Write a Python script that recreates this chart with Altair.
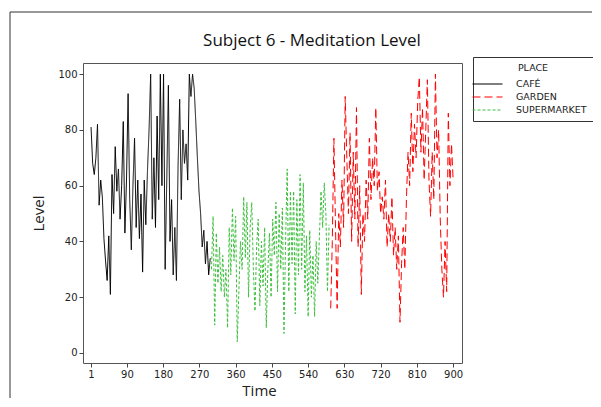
import altair as alt
import pandas as pd

# sampling: one reading every 4 time units
step = 4
cafe_start = 1
supermarket_start = 300
garden_start = 596

cafe = [81, 68, 64, 70, 82, 53, 62, 56, 41, 33, 26, 42, 21, 64, 50, 74, 58, 66, 48, 60,
        83, 43, 62, 93, 55, 37, 60, 77, 45, 62, 41, 57, 29, 62, 46, 65, 80, 100, 48, 70,
        45, 85, 55, 100, 60, 100, 30, 62, 96, 40, 55, 28, 45, 26, 67, 91, 55, 80, 68, 75,
        62, 100, 92, 100, 95, 83, 70, 58, 50, 38, 44, 32, 40, 28, 34]

supermarket = [30, 49, 10, 43, 25, 38, 22, 35, 20, 30, 9, 45, 28, 52, 33, 49, 4, 22, 40, 30,
               56, 34, 54, 20, 45, 54, 30, 15, 38, 48, 17, 40, 24, 45, 9, 30, 43, 20, 48, 35,
               54, 22, 50, 30, 52, 7, 40, 66, 22, 58, 32, 58, 14, 55, 28, 64, 30, 61, 22, 42,
               13, 44, 20, 35, 13, 40, 25, 42, 58, 45, 61, 50, 22, 46]

garden = [16, 40, 77, 45, 16, 50, 38, 62, 45, 92, 70, 50, 79, 40, 72, 48, 88, 38, 60, 21,
          50, 40, 62, 48, 77, 55, 70, 60, 88, 58, 65, 50, 56, 48, 62, 38, 50, 40, 56, 35,
          45, 30, 42, 11, 32, 45, 30, 55, 72, 60, 86, 65, 82, 70, 90, 99, 72, 88, 62, 80,
          98, 62, 49, 72, 55, 100, 70, 80, 48, 30, 20, 40, 22, 86, 60, 75, 62]

x_ticks = [1, 90, 180, 270, 360, 450, 540, 630, 720, 810, 900]
y_ticks = [0, 20, 40, 60, 80, 100]
places = ["CAFÉ", "GARDEN", "SUPERMARKET"]
colors = ["#000000", "#ff0000", "#3cc03c"]
dashes = [[1, 0], [8, 4], [3, 2]]
chart_title = ["Subject 6 - Meditation Level"]

rows = []
for name, start, vals in [("CAFÉ", cafe_start, cafe),
                          ("SUPERMARKET", supermarket_start, supermarket),
                          ("GARDEN", garden_start, garden)]:
    for i, v in enumerate(vals):
        rows.append({"Time": start + step * i, "Level": v, "PLACE": name})
df = pd.DataFrame(rows)

lines = alt.Chart(df).mark_line(strokeWidth=1, clip=True).encode(
    x=alt.X("Time:Q",
            scale=alt.Scale(domain=[-19, 922], nice=False, zero=False),
            axis=alt.Axis(values=x_ticks, title="Time", titleFontSize=15,
                          titleFont="Open Sans", titleFontWeight="normal",
                          titleColor="#222", titlePadding=4, titleX=176,
                          labelFont="DejaVu Sans", labelFontSize=10, labelColor="#222",
                          tickSize=4, tickColor="#444", domain=False, grid=False,
                          labelPadding=2)),
    y=alt.Y("Level:Q",
            scale=alt.Scale(domain=[-3.6, 104], nice=False, zero=False),
            axis=alt.Axis(values=y_ticks, title="Level", titleFontSize=15,
                          titleFont="Open Sans", titleFontWeight="normal",
                          titleColor="#222", titlePadding=11,
                          labelFont="DejaVu Sans", labelFontSize=10, labelColor="#222",
                          tickSize=4, tickColor="#444", domain=False, grid=False,
                          labelPadding=2)),
    color=alt.Color("PLACE:N", scale=alt.Scale(domain=places, range=colors)),
    strokeDash=alt.StrokeDash("PLACE:N", scale=alt.Scale(domain=places, range=dashes)),
    order="Time:Q",
)

one = pd.DataFrame({"k": [0]})
frame_top = alt.Chart(one).mark_rule(stroke="#333", strokeWidth=1, clip=False).encode(
    x=alt.value(-73), x2=alt.value(509), y=alt.value(-51))
frame_left = alt.Chart(one).mark_rule(stroke="#333", strokeWidth=1, clip=False).encode(
    x=alt.value(-73), y=alt.value(-51), y2=alt.value(335))

title = alt.Chart(pd.DataFrame({"t": chart_title})).mark_text(
    font="Open Sans", fontSize=17, color="#111", align="center", baseline="middle"
).encode(x=alt.value(229), y=alt.value(-22), text="t:N")

chart = alt.layer(frame_top, frame_left, title, lines).properties(
    width=379, height=300,
    padding={"left": 75, "top": 55, "right": 131, "bottom": 36},
    autosize=alt.AutoSizeParams(type="none"),
).configure_view(
    stroke="#555", strokeWidth=1
).configure_legend(
    orient="none", legendX=390, legendY=-6,
    strokeColor="#333", fillColor="white", padding=6,
    titleFont="DejaVu Sans", titleFontSize=9.5, titleFontWeight="normal",
    titleColor="#222", titleAnchor="middle", titlePadding=3,
    labelFont="DejaVu Sans", labelFontSize=9.5, labelColor="#222", labelOffset=20,
    symbolType="M-2,0H2", symbolSize=225, symbolStrokeWidth=1.2, rowPadding=0,
)

chart.save("out.html", embed_options={"renderer": "svg", "actions": False})
